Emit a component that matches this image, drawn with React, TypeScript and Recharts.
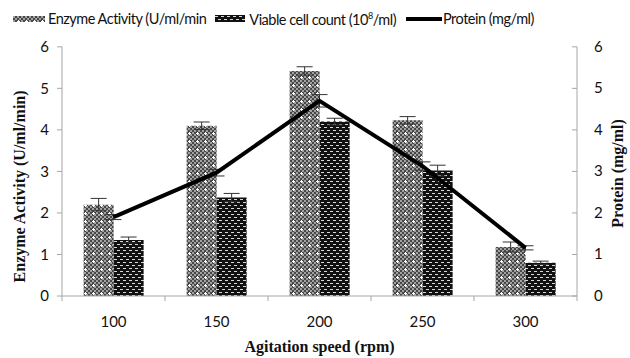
import { Bar, ComposedChart, ErrorBar, Legend, Line, XAxis, YAxis } from 'recharts';

// agitation speed (rpm)
const speeds = ['100', '150', '200', '250', '300'];
// enzyme activity (U/ml/min)
const enzymeActivity = [2.2, 4.1, 5.42, 4.23, 1.18];
const enzymeErr = [0.15, 0.09, 0.1, 0.09, 0.12];
// viable cell count (10^8/ml)
const viableCount = [1.35, 2.37, 4.2, 3.02, 0.8];
const viableErr = [0.07, 0.1, 0.08, 0.13, 0.04];
// protein (mg/ml)
const protein = [1.9, 2.97, 4.7, 3.13, 1.16];
const proteinErr = [0.06, 0.08, 0.15, 0.1, 0.05];

const yTicks = [0, 1, 2, 3, 4, 5, 6];

const data = speeds.map((speed, i) => ({
  speed,
  enzyme: enzymeActivity[i],
  enzymeErr: enzymeErr[i],
  viable: viableCount[i],
  viableErr: viableErr[i],
  protein: protein[i],
  proteinErr: proteinErr[i],
}));

const sans = 'Lato, Carlito, sans-serif';
const serif = '"Liberation Serif", "Times New Roman", serif';
const axisGray = '#a6a6a6';

function XTick(props: any) {
  const { x, y, payload, index } = props;
  const half = payload?.offset ?? 51.5;
  const axisY = y - 5 - 12;
  return (
    <g>
      <line x1={x - half} x2={x - half} y1={axisY} y2={axisY + 5} stroke={axisGray} />
      {index === speeds.length - 1 && (
        <line x1={x + half} x2={x + half} y1={axisY} y2={axisY + 5} stroke={axisGray} />
      )}
      <text x={x} y={y} dy={14} textAnchor="middle" fontFamily={sans} fontSize={15} fill="#111">
        {payload.value}
      </text>
    </g>
  );
}

function RightTick(props: any) {
  const { x, y, payload } = props;
  const axisX = x - 17;
  return (
    <g>
      <line x1={axisX - 5} x2={axisX} y1={y} y2={y} stroke={axisGray} />
      <text x={x} y={y} dy={5} textAnchor="start" fontFamily={sans} fontSize={15} fill="#111">
        {payload.value}
      </text>
    </g>
  );
}

function LegendContent() {
  return (
    <div
      style={{
        display: 'flex',
        alignItems: 'center',
        fontFamily: sans,
        fontSize: 14.5,
        letterSpacing: -0.5,
        color: '#111',
        whiteSpace: 'nowrap',
      }}
    >
      <svg width={32} height={6}>
        <rect width={32} height={6} fill="url(#enzymePat)" />
      </svg>
      <span style={{ marginLeft: 3, marginRight: 9 }}>Enzyme Activity (U/ml/min</span>
      <svg width={30} height={7}>
        <rect width={30} height={7} fill="url(#viablePat)" />
      </svg>
      <span style={{ marginLeft: 4, marginRight: 10 }}>
        Viable cell count (10<sup style={{ fontSize: 9 }}>8</sup>/ml)
      </span>
      <svg width={36} height={4}>
        <rect width={36} height={4} fill="#000" />
      </svg>
      <span style={{ marginLeft: 1 }}>Protein (mg/ml)</span>
    </div>
  );
}

export default function App() {
  return (
    <div style={{ position: 'absolute', left: 0, top: 0, width: 630, height: 358, background: '#fff' }}>
      <ComposedChart
        width={630}
        height={358}
        data={data}
        margin={{ top: 29, right: 0, bottom: 0, left: 0 }}
        barCategoryGap="21%"
        barGap={0}
      >
        <defs>
          <pattern id="enzymePat" width="8" height="8" patternUnits="userSpaceOnUse">
            <rect width="8" height="8" fill="#474747" />
            <rect x="0" y="0" width="2" height="2" fill="#a2a2a2" />
            <rect x="4" y="0" width="2" height="2" fill="#a2a2a2" />
            <rect x="2" y="2" width="2" height="2" fill="#a2a2a2" />
            <rect x="6" y="2" width="2" height="2" fill="#a2a2a2" />
            <rect x="0" y="4" width="2" height="2" fill="#a2a2a2" />
            <rect x="2" y="6" width="2" height="2" fill="#a2a2a2" />
            <rect x="6" y="6" width="2" height="2" fill="#a2a2a2" />
            <rect x="5" y="4" width="1" height="3" fill="#fff" />
            <rect x="4" y="5" width="3" height="1" fill="#fff" />
          </pattern>
          <pattern id="viablePat" width="6" height="6" patternUnits="userSpaceOnUse">
            <rect width="6" height="6" fill="#111" />
            <rect x="0" y="1" width="3" height="1" fill="#d8d8d8" />
            <rect x="3" y="4" width="3" height="1" fill="#d8d8d8" />
          </pattern>
        </defs>
        <Legend
          verticalAlign="top"
          align="left"
          content={<LegendContent />}
          wrapperStyle={{ top: 10, left: 13, width: 'auto' }}
        />
        <XAxis
          dataKey="speed"
          stroke={axisGray}
          tickLine={false}
          tickSize={5}
          tickMargin={12}
          height={62}
          tick={<XTick />}
          interval={0}
          label={{
            value: 'Agitation speed (rpm)',
            position: 'insideBottom',
            offset: 6,
            style: { fontFamily: serif, fontWeight: 'bold', fontSize: 16, fill: '#111' },
          }}
        />
        <YAxis
          yAxisId="left"
          orientation="left"
          width={62}
          domain={[0, 6]}
          ticks={yTicks}
          stroke={axisGray}
          tickSize={5}
          tickMargin={8}
          tick={{ fontFamily: sans, fontSize: 15, fill: '#111' }}
          label={({ viewBox }: any) => (
            <text
              x={20}
              y={viewBox.y + viewBox.height / 2 + 15}
              transform={`rotate(-90, 20, ${viewBox.y + viewBox.height / 2 + 15})`}
              textAnchor="middle"
              dominantBaseline="central"
              fontFamily={serif}
              fontWeight="bold"
              fontSize={16}
              fill="#111"
            >
              Enzyme Activity (U/ml/min)
            </text>
          )}
        />
        <YAxis
          yAxisId="right"
          orientation="right"
          width={53}
          domain={[0, 6]}
          ticks={yTicks}
          stroke={axisGray}
          tickLine={false}
          tickSize={5}
          tickMargin={12}
          tick={<RightTick />}
          label={({ viewBox }: any) => (
            <text
              x={618}
              y={viewBox.y + viewBox.height / 2 + 2}
              transform={`rotate(-90, 618, ${viewBox.y + viewBox.height / 2 + 2})`}
              textAnchor="middle"
              dominantBaseline="central"
              fontFamily={serif}
              fontWeight="bold"
              fontSize={16}
              fill="#111"
            >
              Protein (mg/ml)
            </text>
          )}
        />
        <Bar yAxisId="left" dataKey="enzyme" fill="url(#enzymePat)" isAnimationActive={false}>
          <ErrorBar dataKey="enzymeErr" width={8} stroke="#333" strokeWidth={1} />
        </Bar>
        <Bar yAxisId="left" dataKey="viable" fill="url(#viablePat)" isAnimationActive={false}>
          <ErrorBar dataKey="viableErr" width={8} stroke="#333" strokeWidth={1} />
        </Bar>
        <Line
          yAxisId="right"
          dataKey="protein"
          stroke="#000"
          strokeWidth={4}
          dot={false}
          activeDot={false}
          isAnimationActive={false}
        >
          <ErrorBar dataKey="proteinErr" width={8} stroke="#333" strokeWidth={1} />
        </Line>
      </ComposedChart>
    </div>
  );
}
